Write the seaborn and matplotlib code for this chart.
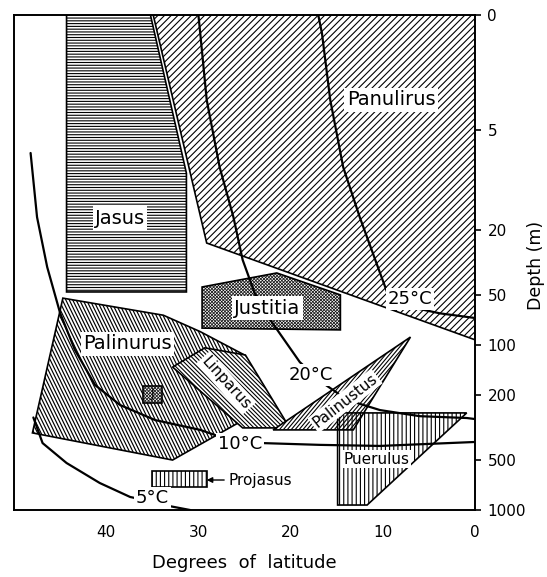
import numpy as np
import pandas as pd
import matplotlib
matplotlib.use("Agg")
import matplotlib.pyplot as plt
import seaborn as sns
from matplotlib.patches import Polygon
from matplotlib.collections import LineCollection

# ---- genus ranges: (latitude in degrees, depth in m); surface "0" sits at 1 m on the log axis
panulirus_lat = [34.9, 0.0, 0.0, 29.1]
panulirus_depth = [1, 1, 93, 24.1]

jasus_lat = [44.3, 35.2, 31.3, 31.3, 44.3]
jasus_depth = [1, 1, 9.1, 47.7, 47.7]

justitia_lat = [29.6, 21.5, 14.6, 14.6, 29.6]
justitia_depth = [44.5, 36.6, 49.7, 81, 79]

palinurus_lat = [44.7, 33.8, 29.8, 25.0, 25.7, 32.8, 48.0]
palinurus_depth = [52, 66, 83, 115, 297, 498, 341]

linparus_lat = [32.8, 29.3, 24.9, 20.1, 25.2]
linparus_depth = [136, 104, 115, 318, 318]

palinustus_lat = [21.9, 13.2, 7.0]
palinustus_depth = [327, 327, 89.5]

puerulus_lat = [14.9, 0.9, 11.7, 14.9]
puerulus_depth = [258, 258, 933, 933]

projasus_lat = [35.0, 29.1, 29.1, 35.0]
projasus_depth = [580, 580, 726, 726]

jbox_lat = [36.0, 34.0, 34.0, 36.0]
jbox_depth = [177, 177, 225, 225]

# ---- isotherms
t5_lat = [47.9, 46.9, 44.3, 40.7, 37.4, 35.0, 33.0, 30.9]
t5_depth = [275, 393, 519, 686, 834, 890, 950, 1000]

t10_lat = [48.2, 47.5, 46.4, 45.0, 43.4, 41.2, 38.5, 34.7, 29.8, 27.9, 25.5, 23.1, 16.8, 10.3, 0.0]
t10_depth = [6.86, 16.8, 33.7, 64, 107, 175, 231, 285, 327, 356, 385, 393, 403, 409, 387]

t20_lat = [30.0, 29.8, 29.1, 27.7, 26.2, 25.2, 23.9, 22.2, 19.0, 16.5, 14.6, 13.2, 10.3, 6.0, 0.9, 0.0]
t20_depth = [1, 1.29, 3.27, 8.34, 16.8, 30.5, 48.4, 70.5, 127, 170, 201, 221, 248, 270, 277, 281]

t25_lat = [17.0, 16.6, 15.7, 14.3, 12.5, 10.3, 9.5, 6.5, 3.8, 0.0]
t25_depth = [1, 1.29, 3.27, 8.34, 16.8, 36.6, 48.4, 59.7, 64.3, 68.6]

depth_ticks = [1, 5, 20, 50, 100, 200, 500, 1000]
depth_labels = ["0", "5", "20", "50", "100", "200", "500", "1000"]
lat_ticks = [40, 30, 20, 10, 0]

sns.set_style("white")
plt.rcParams["font.family"] = ["DejaVu Sans"]
plt.rcParams["hatch.linewidth"] = 0.8
plt.rcParams["hatch.color"] = "black"
for key in ("text.color", "axes.labelcolor", "xtick.color", "ytick.color"):
    plt.rcParams[key] = "black"

FIG_W, FIG_H = 547, 577
AX_X0, AX_X1, AX_Y0, AX_Y1 = 14, 475, 15, 510
AX_W, AX_H = AX_X1 - AX_X0, AX_Y1 - AX_Y0

fig = plt.figure(figsize=(FIG_W / 100, FIG_H / 100), dpi=100)
ax = fig.add_axes([AX_X0 / FIG_W, 1 - AX_Y1 / FIG_H, AX_W / FIG_W, AX_H / FIG_H])

ax.set_yscale("log")
ax.set_xlim(50, 0)
ax.set_ylim(1000, 1)


def region(lat, depth, hatch=None, face="white", z=2):
    poly = Polygon(np.column_stack([lat, depth]), closed=True, facecolor=face,
                   edgecolor="black", linewidth=1.2, hatch=hatch, zorder=z)
    ax.add_patch(poly)
    return poly


def line_hatch(patch, angle_deg, spacing_px, lw=0.8):
    """Parallel ruling at any angle (in screen space), clipped to a patch."""
    a = np.deg2rad(angle_deg)
    d = np.array([np.cos(a), np.sin(a)])
    nrm = np.array([-d[1], d[0]])
    diag = np.hypot(AX_W, AX_H)
    centre = np.array([AX_W / 2, AX_H / 2])
    segs = []
    for o in np.arange(-diag / 2, diag / 2 + spacing_px, spacing_px):
        p = centre + o * nrm
        p0, p1 = p - d * diag / 2, p + d * diag / 2
        segs.append([[p0[0] / AX_W, p0[1] / AX_H], [p1[0] / AX_W, p1[1] / AX_H]])
    lc = LineCollection(segs, colors="black", linewidths=lw,
                        transform=ax.transAxes, zorder=patch.get_zorder())
    lc.set_clip_path(patch)
    ax.add_collection(lc, autolim=False)


region(panulirus_lat, panulirus_depth, "/////")
region(jasus_lat, jasus_depth, "------")

justitia = region(justitia_lat, justitia_depth)
line_hatch(justitia, 45, 2.3, lw=0.55)
line_hatch(justitia, -45, 2.3, lw=0.55)

palinurus = region(palinurus_lat, palinurus_depth)
line_hatch(palinurus, -64, 3.1, lw=0.85)

linparus = region(linparus_lat, linparus_depth, z=3)
line_hatch(linparus, -45, 3.0, lw=0.8)

palinustus = region(palinustus_lat, palinustus_depth, z=3)
line_hatch(palinustus, 50, 3.0, lw=0.8)

region(puerulus_lat, puerulus_depth, "||||", face="none", z=4)
region(projasus_lat, projasus_depth, "||||", z=3)

jbox = region(jbox_lat, jbox_depth, z=3)
line_hatch(jbox, 45, 2.3, lw=0.55)
line_hatch(jbox, -45, 2.3, lw=0.55)

iso = pd.DataFrame({
    "lat": t5_lat + t10_lat + t20_lat + t25_lat,
    "depth": t5_depth + t10_depth + t20_depth + t25_depth,
    "isotherm": (["5"] * len(t5_lat) + ["10"] * len(t10_lat)
                 + ["20"] * len(t20_lat) + ["25"] * len(t25_lat)),
})
for name, grp in iso.groupby("isotherm", sort=False):
    sns.lineplot(data=grp, x="lat", y="depth", sort=False, estimator=None,
                 color="black", linewidth=1.6, ax=ax, zorder=5)

box = dict(boxstyle="square,pad=0.12", fc="white", ec="none")
big = 14
small = 11
ax.text(9.1, 3.27, "Panulirus", fontsize=big, ha="center", va="center", bbox=box, zorder=6)
ax.text(38.5, 17.0, "Jasus", fontsize=big, ha="center", va="center", bbox=box, zorder=6)
ax.text(22.5, 59.7, "Justitia", fontsize=big, ha="center", va="center", bbox=box, zorder=6)
ax.text(37.7, 98.6, "Palinurus", fontsize=big, ha="center", va="center", bbox=box, zorder=6)
ax.text(27.0, 170, "Linparus", fontsize=small, ha="center", va="center", rotation=-48,
        rotation_mode="anchor", bbox=box, zorder=6)
ax.text(14.1, 218, "Palinustus", fontsize=small, ha="center", va="center", rotation=38,
        rotation_mode="anchor", bbox=box, zorder=6)
ax.text(10.7, 491, "Puerulus", fontsize=small, ha="center", va="center", bbox=box, zorder=6)
ax.text(35.0, 198, "J", fontsize=9, ha="center", va="center", zorder=6)
ax.annotate("Projasus", xy=(29.1, 658), xytext=(26.7, 658), fontsize=small,
            ha="left", va="center", zorder=6,
            arrowprops=dict(arrowstyle="-|>", color="black", lw=1.0,
                            shrinkA=1, shrinkB=0, mutation_scale=8))

ax.text(25.5, 398, "10°C", fontsize=13, ha="center", va="center", bbox=box, zorder=6)
ax.text(17.8, 152, "20°C", fontsize=13, ha="center", va="center", bbox=box, zorder=6)
ax.text(7.05, 52.6, "25°C", fontsize=13, ha="center", va="center", bbox=box, zorder=6)
ax.text(35.0, 846, "5°C", fontsize=13, ha="center", va="center", bbox=box, zorder=6)

ax.yaxis.tick_right()
ax.yaxis.set_label_position("right")
ax.set_yticks(depth_ticks)
ax.set_yticklabels(depth_labels)
ax.yaxis.set_minor_locator(matplotlib.ticker.NullLocator())
ax.set_xticks(lat_ticks)
ax.set_xticklabels([str(t) for t in lat_ticks])
ax.tick_params(axis="both", which="major", direction="out", length=4, width=1.2,
               color="black", labelsize=11, pad=5)
ax.tick_params(axis="x", pad=7)
for side in ax.spines.values():
    side.set_visible(True)
    side.set_color("black")
    side.set_linewidth(1.4)

ax.set_xlabel("Degrees  of  latitude", fontsize=13, labelpad=10)
ax.set_ylabel("Depth (m)", fontsize=12.5, rotation=90)
ax.yaxis.set_label_coords(1.113, 0.495)

fig.savefig("out.png", dpi=100, facecolor="white")
